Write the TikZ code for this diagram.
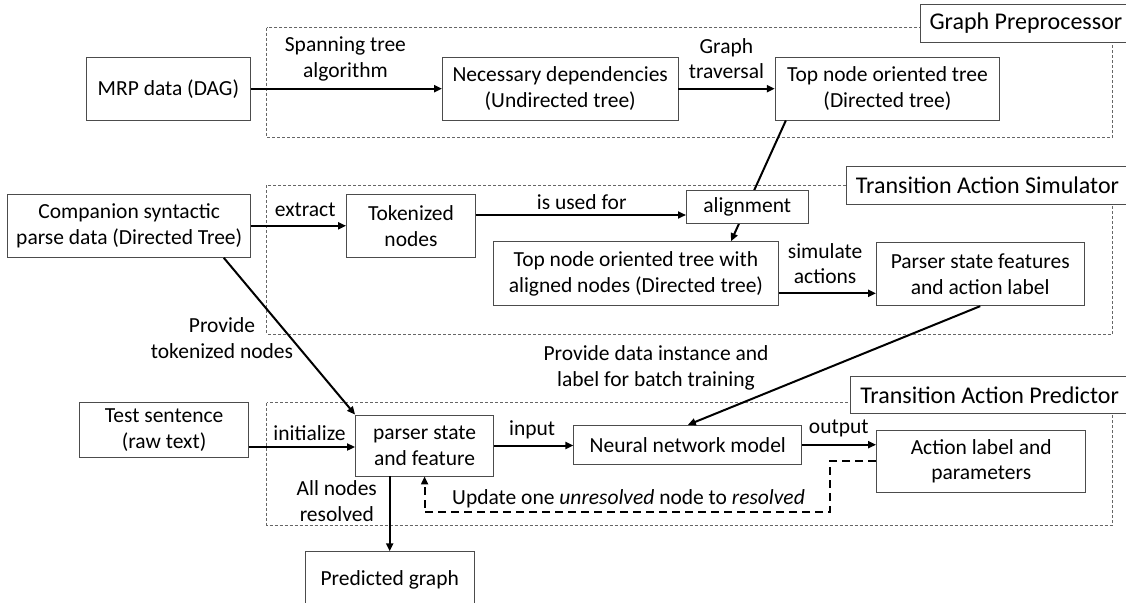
\documentclass[tikz,border=0pt]{standalone}
\usepackage{fontspec}
\setmainfont{Carlito}
\usetikzlibrary{arrows.meta,calc}
\begin{document}
\begin{tikzpicture}[x=1pt,y=-1pt,
  every node/.style={font=\fontsize{21.5}{25.8}\selectfont},
  bx/.style={draw=black!70, line width=0.9pt, fill=white, align=center, inner sep=0pt},
  lbl/.style={align=center, inner sep=0pt},
  ttl/.style={draw=black!70, line width=0.9pt, fill=white, anchor=west, inner xsep=9.5pt, inner ysep=0pt, minimum height=37.6pt, font=\fontsize{24}{28.5}\selectfont},
  zone/.style={draw=black!60, line width=0.8pt, dash pattern=on 3pt off 2pt},
  arr/.style={line width=2pt, -{Triangle[length=8pt,width=7pt]}},
  fb/.style={line width=2pt, dash pattern=on 8pt off 5pt, -{Triangle[length=8pt,width=7pt]}}
]
\useasboundingbox (0,0) rectangle (1126,602);

% dashed zones
\draw[zone] (266.8,27.7) rectangle (1112.5,137.3);
\draw[zone] (266.8,185) rectangle (1112.5,334);
\draw[zone] (266.8,402.7) rectangle (1112.5,525);

% zone titles
\node[ttl] (tgp) at (919.6,23.5) {\makebox[280pt][l]{Graph Preprocessor}};
\node[ttl] (tas) at (846,185.5) {\makebox[300pt][l]{Transition Action Simulator}};
\node[ttl] (tap) at (850.3,395) {\makebox[300pt][l]{Transition Action Predictor}};

% boxes
\node[bx, minimum width=164.3pt, minimum height=62.7pt] (mrp) at (168.4,88.7) {MRP data (DAG)};
\node[bx, minimum width=235.5pt, minimum height=62.7pt] (nec) at (560.2,88.7) {Necessary dependencies\\(Undirected tree)};
\node[bx, minimum width=224.4pt, minimum height=62.7pt] (top) at (887.4,88.7) {Top node oriented tree\\(Directed tree)};
\node[bx, minimum width=242.6pt, minimum height=63pt] (comp) at (129.2,225.8) {Companion syntactic\\parse data (Directed Tree)};
\node[bx, minimum width=128.9pt, minimum height=63pt] (tok) at (411,225.8) {Tokenized\\nodes};
\node[bx, minimum width=285.1pt, minimum height=64pt] (aligned) at (635.9,273.7) {Top node oriented tree with\\aligned nodes (Directed tree)};
\node[bx, minimum width=207.5pt, minimum height=63pt] (parser) at (980.2,274.2) {Parser state features\\and action label};
\node[bx, minimum width=168.8pt, minimum height=55.3pt] (test) at (164.1,429.7) {Test sentence\\(raw text)};
\node[bx, minimum width=138.2pt, minimum height=61pt] (ps) at (424.6,445.5) {parser state\\and feature};
\node[bx, minimum width=228pt, minimum height=38.7pt] (nn) at (687.8,444.7) {Neural network model};
\node[bx, minimum width=209.3pt, minimum height=62.7pt] (act) at (981.2,461.3) {Action label and\\parameters};
\node[bx, minimum width=169.3pt, minimum height=56.3pt] (pred) at (389.7,579.9) {Predicted graph};

% connectors
\draw[arr] (mrp.east) -- (nec.west);
\draw[arr] (nec.east) -- (top.west);
\draw[arr] ($(top.south west)+(11.1,0)$) -- ($(aligned.north)+(95.1,0)$);
\node[bx, minimum width=121.7pt, minimum height=33.8pt] (align) at (747.3,206.9) {alignment};
\draw[arr] (comp.east) -- (tok.west);
\draw[arr] ($(tok.east)+(0,-10.8)$) coordinate (t1) -- (t1 -| align.west);
\draw[arr] ($(aligned.east)+(0,19.6)$) coordinate (a1) -- (a1 -| parser.west);
\draw[arr] (parser.south) -- (nn.north);
\draw[arr] ($(comp.south east)+(-27.2,0)$) -- (ps.north west);
\draw[arr] ($(test.east)+(0,17.3)$) coordinate (s1) -- (s1 -| ps.west);
\draw[arr] (ps.east) -- (ps.east -| nn.west);
\draw[arr] (nn.east) -- (nn.east -| act.west);
\draw[fb] (act.west) -- (830,461.3) -- (830,512.3) -- (424.6,512.3) -- (ps.south);
\draw[arr] (pred.north |- ps.south) -- (pred.north);

% labels
\node[lbl] (l1) at (345.4,58.7) {Spanning tree\\algorithm};
\node[lbl] (l2) at (726.4,58.7) {Graph\\traversal};
\node[lbl] (l3) at (305.2,210) {extract};
\node[lbl] (l4) at (581.7,202) {is used for};
\node[lbl] (l5) at (825.1,263.7) {simulate\\actions};
\node[lbl] (l6) at (656,368) {Provide data instance and\\label for batch training};
\node[lbl] (l7) at (222,338) {Provide\\tokenized nodes};
\node[lbl] (l8) at (309.5,433.3) {initialize};
\node[lbl] (l9) at (532.1,430) {input};
\node[lbl] (l10) at (838.8,428.3) {output};
\node[lbl] (l11) at (336.8,501.2) {All nodes\\resolved};
\node[lbl] (l12) at (628.5,498.3) {Update one \textit{unresolved} node to \textit{resolved}};
\end{tikzpicture}
\end{document}
